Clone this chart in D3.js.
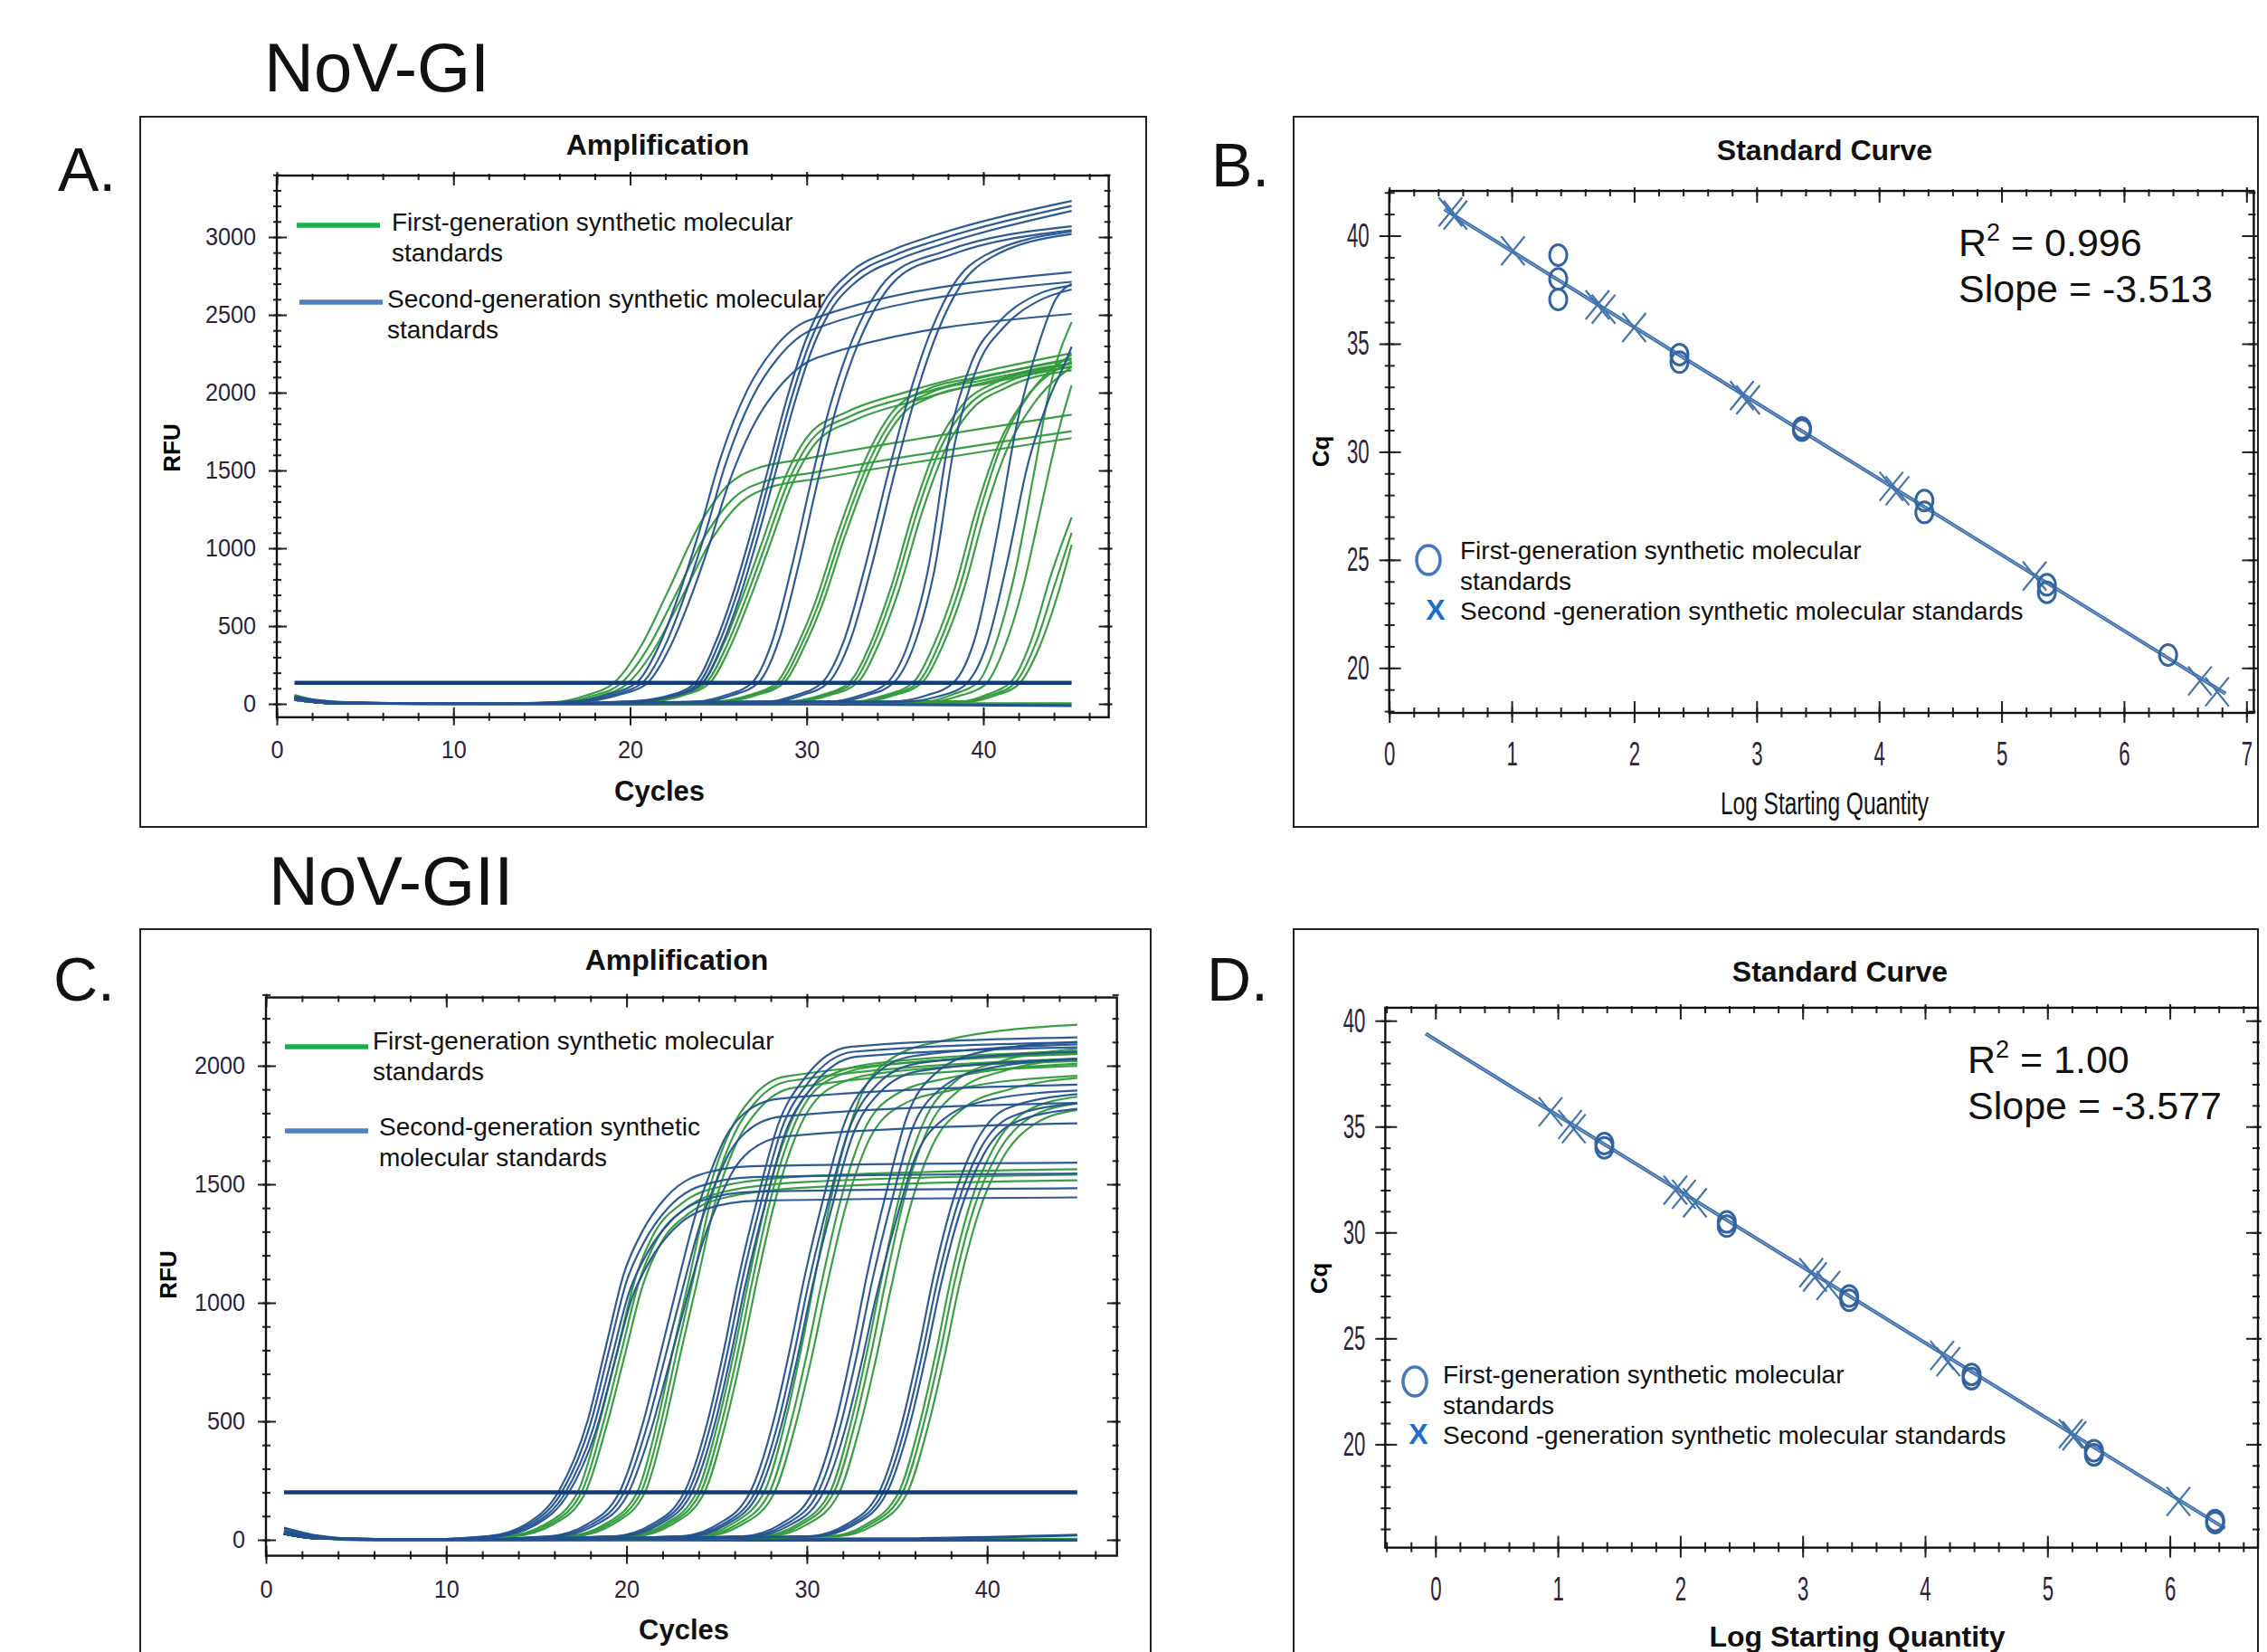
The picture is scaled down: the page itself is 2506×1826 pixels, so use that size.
<!DOCTYPE html>
<html>
<head>
<meta charset="utf-8">
<script src="https://cdn.jsdelivr.net/npm/d3@7"></script>
<style>
body { margin: 0; background: #fff; }
text { font-family: "Liberation Sans", Arial, sans-serif; }
</style>
</head>
<body>
<div id="fig"></div>
<script>
// ---------- amplification data, NoV-GI (panel A) ----------
// knots are [cycle, RFU]; reps are [cycle shift, scale] per replicate
var thresholdA = 135;
var aG1 = [[1,35],[3,8],[12,0],[16,10],[17.8,50],[19.5,135],[21,360],[22.5,690],[24.3,1100],[25.9,1340],[27.5,1440],[30.3,1500],[45,1770]];
var aG1reps = [[-0.35,1.05],[0,0.99],[0.35,0.965]];
var aB1 = [[1,45],[3,10],[12,0],[17,15],[19,60],[20.6,135],[22,400],[23,690],[24.2,1100],[25.3,1520],[26.8,1940],[28.3,2200],[30.3,2380],[45,2680]];
var aB1reps = [[-0.2,1.035],[0.1,1.012],[0.3,0.935]];
var aB2 = [[1,30],[3,5],[14,0],[20,15],[22.2,50],[23.8,135],[24.9,380],[25.9,690],[27,1110],[28,1530],[29,1950],[30.1,2330],[31.2,2580],[32.5,2740],[35,2890],[37.3,2980],[45,3200]];
var aB2reps = [[-0.1,1.01],[0.1,1.0],[0.3,0.99]];
var aG2 = [[1,30],[3,5],[14,0],[21,15],[22.8,55],[24.3,135],[25.5,380],[26.6,690],[27.6,1000],[29,1440],[30.3,1700],[32.5,1850],[36,1980],[45,2220]];
var aG2reps = [[-0.2,1.015],[0,1.0],[0.2,0.985]];
var aB3 = [[1,30],[3,5],[14,0],[24,15],[25.6,55],[27.1,135],[28.3,420],[29.4,900],[30.5,1450],[31.5,1900],[32.5,2250],[33.7,2550],[35,2750],[38,2900],[45,3060]];
var aB3reps = [[-0.2,1.003],[0.15,0.995]];
var aG3 = [[1,25],[3,5],[14,0],[25,15],[26.9,55],[28.5,135],[29.7,380],[30.6,620],[32,1100],[33.5,1550],[35,1850],[37,2000],[40,2080],[45,2190]];
var aG3reps = [[-0.2,1.01],[0,1.0],[0.2,0.99]];
var aB4 = [[1,30],[3,5],[14,0],[28,15],[29.5,55],[31,135],[32.3,420],[33.5,900],[34.8,1500],[36,2000],[37.2,2400],[38.5,2700],[40.2,2880],[45,3035]];
var aB4reps = [[-0.15,1.0],[0.2,0.995]];
var aG4 = [[1,25],[3,5],[14,0],[29,15],[31,55],[32.6,135],[33.8,380],[35,750],[36.3,1250],[37.6,1650],[39,1900],[41,2050],[45,2165]];
var aG4reps = [[-0.2,1.01],[0,1.0],[0.25,0.99]];
var aB5 = [[1,30],[3,5],[14,0],[31.5,15],[33.2,55],[34.7,135],[36,420],[37,850],[38.2,1700],[39.5,2200],[41,2450],[43,2620],[45,2690]];
var aB5reps = [[-0.15,1.0],[0.2,0.99]];
var aG5 = [[1,25],[3,5],[14,0],[33,15],[34.6,55],[36.2,135],[37.4,380],[38.6,750],[39.8,1250],[41,1650],[42.5,1950],[45,2200]];
var aG5reps = [[-0.2,1.0],[0.1,1.02],[0.3,0.985]];
var aB6 = [[1,30],[3,5],[14,0],[35,15],[37,55],[38.5,135],[39.8,450],[41,1100],[42.1,1800],[43.3,2300],[44.3,2600],[45,2700]];
var aB6reps = [[-0.2,1.0],[0.4,0.85]];
var aG6 = [[1,25],[3,5],[14,0],[37,15],[38.4,55],[39.9,135],[41,400],[42,800],[43,1350],[44,1900],[45,2250]];
var aG6reps = [[-0.15,1.09],[0.2,0.91]];
var aG7 = [[1,25],[3,5],[14,0],[39,15],[40.4,55],[41.8,135],[43,400],[44,750],[45,1100]];
var aG7reps = [[-0.2,1.09],[0,1.0],[0.2,0.93]];
var aNtcBlue = [[1,45],[2.5,20],[5,5],[10,0],[30,-2],[45,-12]];
var aNtcGreen = [[1,55],[2,25],[3.5,8],[8,0],[45,2]];

// ---------- amplification data, NoV-GII (panel C) ----------
var thresholdC = 200;
var cB1 = [[1,30],[3,5],[8,0],[12.5,15],[14.6,65],[16.4,200],[18,490],[19,790],[20,1090],[21,1260],[22.3,1400],[24,1490],[27,1530],[45,1545]];
var cB1reps = [[-0.15,1.03],[0,1.0],[0.15,0.96],[0.3,0.935]];
var cG1 = [[1,25],[3,5],[8,0],[13.5,15],[15.7,65],[17.5,200],[18.7,490],[19.7,790],[20.7,1090],[21.7,1270],[23.3,1400],[25.5,1470],[30,1510],[45,1540]];
var cG1reps = [[-0.2,1.015],[0,1.0],[0.2,0.985]];
var cB2 = [[1,25],[3,5],[10,0],[15.8,15],[17.9,65],[19.7,200],[21,490],[22,790],[23,1100],[24,1390],[24.8,1560],[25.6,1700],[26.5,1790],[28.5,1860],[45,1920]];
var cB2reps = [[-0.1,1.0],[0.1,0.96],[0.3,0.915]];
var cG2 = [[1,25],[3,5],[10,0],[16.9,15],[19,65],[20.8,200],[21.9,490],[22.8,800],[23.7,1100],[24.7,1440],[25.9,1700],[27.2,1850],[29,1935],[45,2030]];
var cG2reps = [[-0.2,1.01],[0,1.0],[0.2,0.985]];
var cB3 = [[1,25],[3,5],[10,0],[19.4,15],[21.5,65],[23.3,200],[24.6,500],[25.5,800],[26.3,1100],[27.4,1450],[28.5,1750],[30,1950],[32.5,2080],[45,2120]];
var cB3reps = [[-0.1,1.0],[0.1,0.99],[0.3,0.98]];
var cG3 = [[1,25],[3,5],[10,0],[20.2,15],[22.3,65],[24.1,200],[25.3,500],[26.2,800],[27,1100],[28,1440],[29.3,1750],[31,1930],[34,2000],[45,2050]];
var cG3reps = [[-0.2,1.005],[0,1.0],[0.2,0.985]];
var cB4 = [[1,25],[3,5],[12,0],[23.1,15],[25.2,65],[27,200],[28.3,500],[29.2,800],[30,1100],[31.1,1450],[32.2,1750],[33.8,1950],[36,2040],[45,2090]];
var cB4reps = [[-0.15,1.0],[0.1,0.985],[0.3,0.97]];
var cG4 = [[1,25],[3,5],[12,0],[24,15],[26.1,65],[27.9,200],[29.1,500],[30,800],[30.8,1100],[31.8,1440],[33.1,1750],[35,1920],[38,1990],[45,2050]];
var cG4reps = [[-0.2,1.06],[0,0.98],[0.25,0.955]];
var cB5 = [[1,25],[3,5],[12,0],[26.6,15],[28.7,65],[30.5,200],[31.8,500],[32.7,800],[33.5,1100],[34.6,1450],[35.7,1750],[37.3,1930],[40,2020],[45,2060]];
var cB5reps = [[-0.15,1.02],[0.1,0.985],[0.3,0.92]];
var cG5 = [[1,25],[3,5],[12,0],[27.6,15],[29.7,65],[31.5,200],[32.7,500],[33.6,800],[34.4,1100],[35.4,1440],[36.7,1730],[38.5,1900],[41,1980],[45,2030]];
var cG5reps = [[-0.2,1.02],[0,1.0],[0.25,0.96]];
var cB6 = [[1,25],[3,5],[12,0],[30.2,15],[32.3,65],[34.1,200],[35.4,500],[36.3,800],[37.1,1100],[38.2,1430],[39.5,1680],[41.2,1820],[45,1880]];
var cB6reps = [[-0.1,1.0],[0.1,0.98],[0.3,0.967]];
var cG6 = [[1,25],[3,5],[12,0],[31.4,15],[33.5,65],[35.3,200],[36.5,500],[37.4,800],[38.2,1100],[39.3,1420],[40.6,1650],[42.4,1800],[45,1860]];
var cG6reps = [[-0.2,1.005],[0,0.99],[0.25,0.975]];
var cNtc1 = [[1,50],[3,15],[6,0],[35,5],[45,20]];
var cNtc2 = [[1,35],[3,10],[7,0],[45,-2]];
var cNtcGreen = [[1,40],[2.5,15],[5,0],[45,3]];

// ---------- standard curves ----------
var stdBFirst = [[1.38,39.1],[1.38,38.0],[1.38,37.05],[2.37,34.5],[2.37,34.15],[3.37,31.1],[3.37,31.0],[4.37,27.75],[4.37,27.2],[5.37,23.85],[5.37,23.5],[6.36,20.6]];
var stdBSecond = [[0.50,41.1],[0.54,40.95],[1.01,39.3],[1.70,36.8],[1.75,36.6],[2.00,35.75],[2.88,32.6],[2.93,32.4],[4.10,28.4],[4.15,28.2],[5.27,24.25],[6.62,19.4],[6.76,18.9]];
var stdBFitX = [0.45, 6.83];
var stdBSlope = -3.513, stdBIntercept = 42.8;
var stdDFirst = [[1.38,34.2],[1.38,34.0],[2.38,30.5],[2.38,30.3],[3.38,27.0],[3.38,26.8],[4.38,23.3],[4.38,23.1],[5.38,19.7],[5.38,19.5],[6.37,16.4],[6.37,16.3]];
var stdDSecond = [[0.94,35.7],[1.10,35.1],[1.13,34.9],[1.96,32.0],[2.03,31.8],[2.12,31.4],[3.07,28.1],[3.10,27.9],[3.21,27.5],[4.14,24.2],[4.19,23.9],[5.19,20.5],[5.22,20.4],[6.07,17.3]];
var stdDFitX = [-0.08, 6.45];
var stdDSlope = -3.577, stdDIntercept = 39.1;

var legendFirst = ["First-generation synthetic molecular", "standards"];
var legendSecondA = ["Second-generation synthetic molecular", "standards"];
var legendSecondC = ["Second-generation synthetic", "molecular standards"];
var legendSecondStd = "Second -generation synthetic molecular standards";

// colours
var blueCurve = "#24528f", greenCurve = "#2f9a3a", threshCol = "#0f3d7a";
var legGreen = "#14b04b", legBlue = "#4f80c0", markCol = "#34649f";

var svg = d3.select("#fig").append("svg")
    .attr("width", 2506)
    .attr("height", 1826);
svg.append("rect").attr("width", 2506).attr("height", 1826).attr("fill", "#fff");

// squeeze text to look like a condensed face (no narrow font installed)
function condense(sel, k) {
    sel.each(function() {
        var w = this.getComputedTextLength();
        d3.select(this).attr("textLength", w * k).attr("lengthAdjust", "spacingAndGlyphs");
    });
}

//panel boxes
function box(x0, y0, x1, y1, openBottom) {
    var p = openBottom
        ? `M${x0},${y1}L${x0},${y0}L${x1},${y0}L${x1},${y1}`
        : `M${x0},${y0}L${x1},${y0}L${x1},${y1}L${x0},${y1}Z`;
    svg.append("path").attr("d", p).attr("fill", "none").attr("stroke", "#222").attr("stroke-width", 2);
}
box(155, 129, 1267, 914);
box(1430, 129, 2496, 914);
box(155, 1027, 1272, 1830, true);
box(1430, 1027, 2496, 1830, true);

//big titles
function txt(x, y, s, size, weight, anchor) {
    return svg.append("text").attr("x", x).attr("y", y).text(s)
        .attr("font-size", size).attr("font-weight", weight || "normal")
        .attr("text-anchor", anchor || "start").attr("fill", "#111");
}
txt(292, 101, "NoV-GI", 76);
txt(297, 1000, "NoV-GII", 76);
txt(64, 211, "A.", 68);
txt(1339, 206, "B.", 68);
txt(59, 1106, "C.", 68);
txt(1334, 1106, "D.", 68);

// frame with ticks on all four sides (ticks cross the frame line)
function frame(x, y, xr, yr, xMaj, xMin, yMaj, yMin, o) {
    var left = x(xr[0]), right = x(xr[1]), top = y(yr[1]), bottom = y(yr[0]);
    var g = svg.append("g");
    function style(sel, inner) {
        sel.select(".domain").remove();
        sel.selectAll("line").attr("stroke", "#222").attr("stroke-width", 2);
        sel.selectAll(".tick line").each(function() {
            var l = d3.select(this);
            if (l.attr("y2") != null && +l.attr("y2") != 0) l.attr("y1", +l.attr("y2") > 0 ? -inner : inner);
            else l.attr("x1", +l.attr("x2") > 0 ? -inner : inner);
        });
        sel.selectAll("text").attr("font-size", o.fs).attr("fill", "#2d2238").call(condense, o.squeeze);
    }
    g.append("g").attr("transform", `translate(0,${bottom})`)
        .call(d3.axisBottom(x).tickValues(xMaj).tickSize(o.majOut).tickPadding(o.xGap - o.majOut).tickFormat(d3.format("d")))
        .call(style, o.majIn);
    g.append("g").attr("transform", `translate(0,${bottom})`)
        .call(d3.axisBottom(x).tickValues(xMin).tickSize(o.minOut).tickFormat("")).call(style, o.minIn);
    g.append("g").attr("transform", `translate(0,${top})`)
        .call(d3.axisTop(x).tickValues(xMaj).tickSize(4).tickFormat("")).call(style, o.majIn);
    g.append("g").attr("transform", `translate(0,${top})`)
        .call(d3.axisTop(x).tickValues(xMin).tickSize(2).tickFormat("")).call(style, o.minIn);
    g.append("g").attr("transform", `translate(${left},0)`)
        .call(d3.axisLeft(y).tickValues(yMaj).tickSize(o.majOut).tickPadding(o.yGap - o.majOut).tickFormat(d3.format("d")))
        .call(style, o.majIn);
    g.append("g").attr("transform", `translate(${left},0)`)
        .call(d3.axisLeft(y).tickValues(yMin).tickSize(o.minOut).tickFormat("")).call(style, o.minIn);
    g.append("g").attr("transform", `translate(${right},0)`)
        .call(d3.axisRight(y).tickValues(yMaj).tickSize(4).tickFormat("")).call(style, o.majIn);
    g.append("g").attr("transform", `translate(${right},0)`)
        .call(d3.axisRight(y).tickValues(yMin).tickSize(2).tickFormat("")).call(style, o.minIn);
    g.append("rect").attr("x", left).attr("y", top).attr("width", right - left).attr("height", bottom - top)
        .attr("fill", "none").attr("stroke", "#111").attr("stroke-width", 2.4);
    return {left: left, right: right, top: top, bottom: bottom};
}

function steps(a, b, s) {
    return d3.range(Math.round(a / s), Math.round(b / s) + 1).map(function(i) { return +(i * s).toFixed(3); });
}

// ---------- amplification panels ----------
function ampPanel(id, x, y, xr, yr, yMajMax, series, ntc, thr, leg, xGap) {
    var f = frame(x, y, xr, yr, [0, 10, 20, 30, 40], steps(0, 46, 2),
        d3.range(0, yMajMax + 1, 500), steps(0, yr[1] - 1, 100),
        {fs: 28, squeeze: 0.9, xGap: xGap, yGap: 23, majIn: 11, majOut: 9, minIn: 5, minOut: 4});
    svg.append("clipPath").attr("id", id).append("rect")
        .attr("x", f.left).attr("y", f.top).attr("width", f.right - f.left).attr("height", f.bottom - f.top);
    var plot = svg.append("g").attr("clip-path", `url(#${id})`);
    var line = d3.line().x(d => x(d[0])).y(d => y(d[1])).curve(d3.curveMonotoneX);
    ntc.forEach(function(n) {
        plot.append("path").attr("d", line(n[1])).attr("fill", "none")
            .attr("stroke", n[0] == 1 ? greenCurve : blueCurve).attr("stroke-width", 3);
    });
    [1, 2].forEach(function(gen) {
        series.filter(s => s[0] == gen).forEach(function(s) {
            var knots = s[1];
            s[2].forEach(function(r) {
                var pts = knots.map(function(k, i) {
                    var cx = (i > 0 && i < knots.length - 1 && k[0] > 10) ? k[0] + r[0] : k[0];
                    return [cx, i == 0 ? k[1] : k[1] * r[1]];
                });
                plot.append("path").attr("d", line(pts)).attr("fill", "none")
                    .attr("stroke", gen == 1 ? greenCurve : blueCurve)
                    .attr("stroke-width", 2.2).attr("stroke-opacity", 0.95);
            });
        });
    });
    plot.append("line").attr("x1", x(1)).attr("x2", x(45)).attr("y1", y(thr)).attr("y2", y(thr))
        .attr("stroke", threshCol).attr("stroke-width", 4.5);

    // legend
    leg.forEach(function(l) {
        svg.append("line").attr("x1", l.x0).attr("x2", l.x1).attr("y1", l.y).attr("y2", l.y)
            .attr("stroke", l.col).attr("stroke-width", 5.5);
        l.lines.forEach(function(s, i) {
            txt(l.tx, l.ty + i * 34, s, 28);
        });
    });
    return f;
}

var xA = d3.scaleLinear().domain([0, 40]).range([306, 1087]);
var yA = d3.scaleLinear().domain([0, 3000]).range([778, 262]);
ampPanel("clipA", xA, yA, [0, 47.1], [-86, 3395], 3000,
    [[1, aG1, aG1reps], [2, aB1, aB1reps], [2, aB2, aB2reps], [1, aG2, aG2reps], [2, aB3, aB3reps], [1, aG3, aG3reps],
     [2, aB4, aB4reps], [1, aG4, aG4reps], [2, aB5, aB5reps], [1, aG5, aG5reps], [2, aB6, aB6reps], [1, aG6, aG6reps], [1, aG7, aG7reps]],
    [[1, aNtcGreen], [2, aNtcBlue]], thresholdA,
    [{x0: 328, x1: 420, y: 249, col: legGreen, tx: 433, ty: 255, lines: legendFirst},
     {x0: 331, x1: 423, y: 334, col: legBlue, tx: 428, ty: 340, lines: legendSecondA}], 25);
txt(727, 171, "Amplification", 32, "bold", "middle");
txt(729, 885, "Cycles", 31, "bold", "middle");
svg.append("text").attr("transform", "translate(199,495) rotate(-90)").attr("text-anchor", "middle")
    .attr("font-size", 26).attr("font-weight", "bold").text("RFU");

var xC = d3.scaleLinear().domain([0, 40]).range([294, 1091.2]);
var yC = d3.scaleLinear().domain([0, 2000]).range([1702, 1178]);
ampPanel("clipC", xC, yC, [0, 47.2], [-67, 2288], 2000,
    [[1, cG1, cG1reps], [2, cB1, cB1reps], [1, cG2, cG2reps], [2, cB2, cB2reps], [1, cG3, cG3reps], [2, cB3, cB3reps],
     [1, cG4, cG4reps], [2, cB4, cB4reps], [1, cG5, cG5reps], [2, cB5, cB5reps], [1, cG6, cG6reps], [2, cB6, cB6reps]],
    [[1, cNtcGreen], [2, cNtc1], [2, cNtc2]], thresholdC,
    [{x0: 315, x1: 407, y: 1157, col: legGreen, tx: 412, ty: 1160, lines: legendFirst},
     {x0: 315, x1: 407, y: 1250, col: legBlue, tx: 419, ty: 1255, lines: legendSecondC}], 27);
txt(748, 1072, "Amplification", 32, "bold", "middle");
txt(756, 1812, "Cycles", 31, "bold", "middle");
svg.append("text").attr("transform", "translate(195,1409) rotate(-90)").attr("text-anchor", "middle")
    .attr("font-size", 26).attr("font-weight", "bold").text("RFU");

// ---------- standard curve panels ----------
function stdPanel(id, x, y, xr, yr, first, second, fitX, slope, icpt, r2, slopeTxt, leg, rx) {
    var f = frame(x, y, xr, yr, d3.range(0, Math.floor(xr[1]) + 1), steps(Math.ceil(xr[0] * 5) / 5, xr[1], 0.2),
        [20, 25, 30, 35, 40], steps(Math.ceil(yr[0]), Math.floor(yr[1]), 1),
        {fs: 37, squeeze: 0.6, xGap: 32, yGap: 22, majIn: 13, majOut: 11, minIn: 6, minOut: 5});
    svg.append("clipPath").attr("id", id).append("rect")
        .attr("x", f.left).attr("y", f.top).attr("width", f.right - f.left).attr("height", f.bottom - f.top);
    var plot = svg.append("g").attr("clip-path", `url(#${id})`);
    var fit = fitX.map(v => [v, icpt + slope * v]);
    plot.append("line").attr("x1", x(fit[0][0])).attr("y1", y(fit[0][1]))
        .attr("x2", x(fit[1][0])).attr("y2", y(fit[1][1]))
        .attr("stroke", "#3d6da8").attr("stroke-width", 4);
    plot.append("line").attr("x1", x(fit[0][0])).attr("y1", y(fit[0][1]))
        .attr("x2", x(fit[1][0])).attr("y2", y(fit[1][1]))
        .attr("stroke", "#8fb0d6").attr("stroke-width", 1);
    plot.selectAll(null).data(second).enter().append("path")
        .attr("transform", d => `translate(${x(d[0])},${y(d[1])})`)
        .attr("d", "M-13,-16L13,16M-13,16L13,-16")
        .attr("stroke", "#4474ae").attr("stroke-width", 2.2).attr("fill", "none");
    plot.selectAll(null).data(first).enter().append("ellipse")
        .attr("cx", d => x(d[0])).attr("cy", d => y(d[1]))
        .attr("rx", 9.5).attr("ry", 11.5)
        .attr("fill", "none").attr("stroke", markCol).attr("stroke-width", 3);

    var r = svg.append("text").attr("x", rx.x).attr("y", rx.y).attr("font-size", 43).attr("fill", "#111");
    r.append("tspan").text("R");
    r.append("tspan").text("2").attr("font-size", 27).attr("dy", -17);
    r.append("tspan").text(" = " + r2).attr("dy", 17);
    txt(rx.x, rx.y + 51, "Slope = " + slopeTxt, 43);

    svg.append("ellipse").attr("cx", leg.cx).attr("cy", leg.cy).attr("rx", 13).attr("ry", 16)
        .attr("fill", "none").attr("stroke", "#4677bd").attr("stroke-width", 3.5);
    txt(leg.tx, leg.ty, legendFirst[0], 28);
    txt(leg.tx, leg.ty + 34, legendFirst[1], 28);
    txt(leg.xx, leg.ty + 67, "X", 32, "bold", "middle").attr("fill", "#1a6fc6");
    txt(leg.tx, leg.ty + 67, legendSecondStd, 28);
    return f;
}

var xB = d3.scaleLinear().domain([0, 7]).range([1535.7, 2483.3]);
var yB = d3.scaleLinear().domain([20, 40]).range([738.3, 260.5]);
stdPanel("clipB", xB, yB, [0, 7.06], [17.92, 42.07], stdBFirst, stdBSecond, stdBFitX, stdBSlope, stdBIntercept,
    "0.996", "-3.513", {cx: 1579, cy: 619, tx: 1614, ty: 618, xx: 1587}, {x: 2165, y: 283});
txt(2017, 177, "Standard Curve", 32, "bold", "middle");
txt(2017, 900, "Log Starting Quantity", 35, "normal", "middle").call(condense, 0.7);
svg.append("text").attr("transform", "translate(1469,499) rotate(-90)").attr("text-anchor", "middle")
    .attr("font-size", 26).attr("font-weight", "bold").text("Cq");

var xD = d3.scaleLinear().domain([0, 6]).range([1586.8, 2398.6]);
var yD = d3.scaleLinear().domain([20, 40]).range([1596.4, 1128.2]);
stdPanel("clipD", xD, yD, [-0.41, 6.72], [15.12, 40.61], stdDFirst, stdDSecond, stdDFitX, stdDSlope, stdDIntercept,
    "1.00", "-3.577", {cx: 1564, cy: 1527, tx: 1595, ty: 1529, xx: 1568}, {x: 2175, y: 1186});
txt(2034, 1085, "Standard Curve", 32, "bold", "middle");
txt(2053, 1820, "Log Starting Quantity", 32, "bold", "middle");
svg.append("text").attr("transform", "translate(1467,1413) rotate(-90)").attr("text-anchor", "middle")
    .attr("font-size", 26).attr("font-weight", "bold").text("Cq");
</script>
</body>
</html>
